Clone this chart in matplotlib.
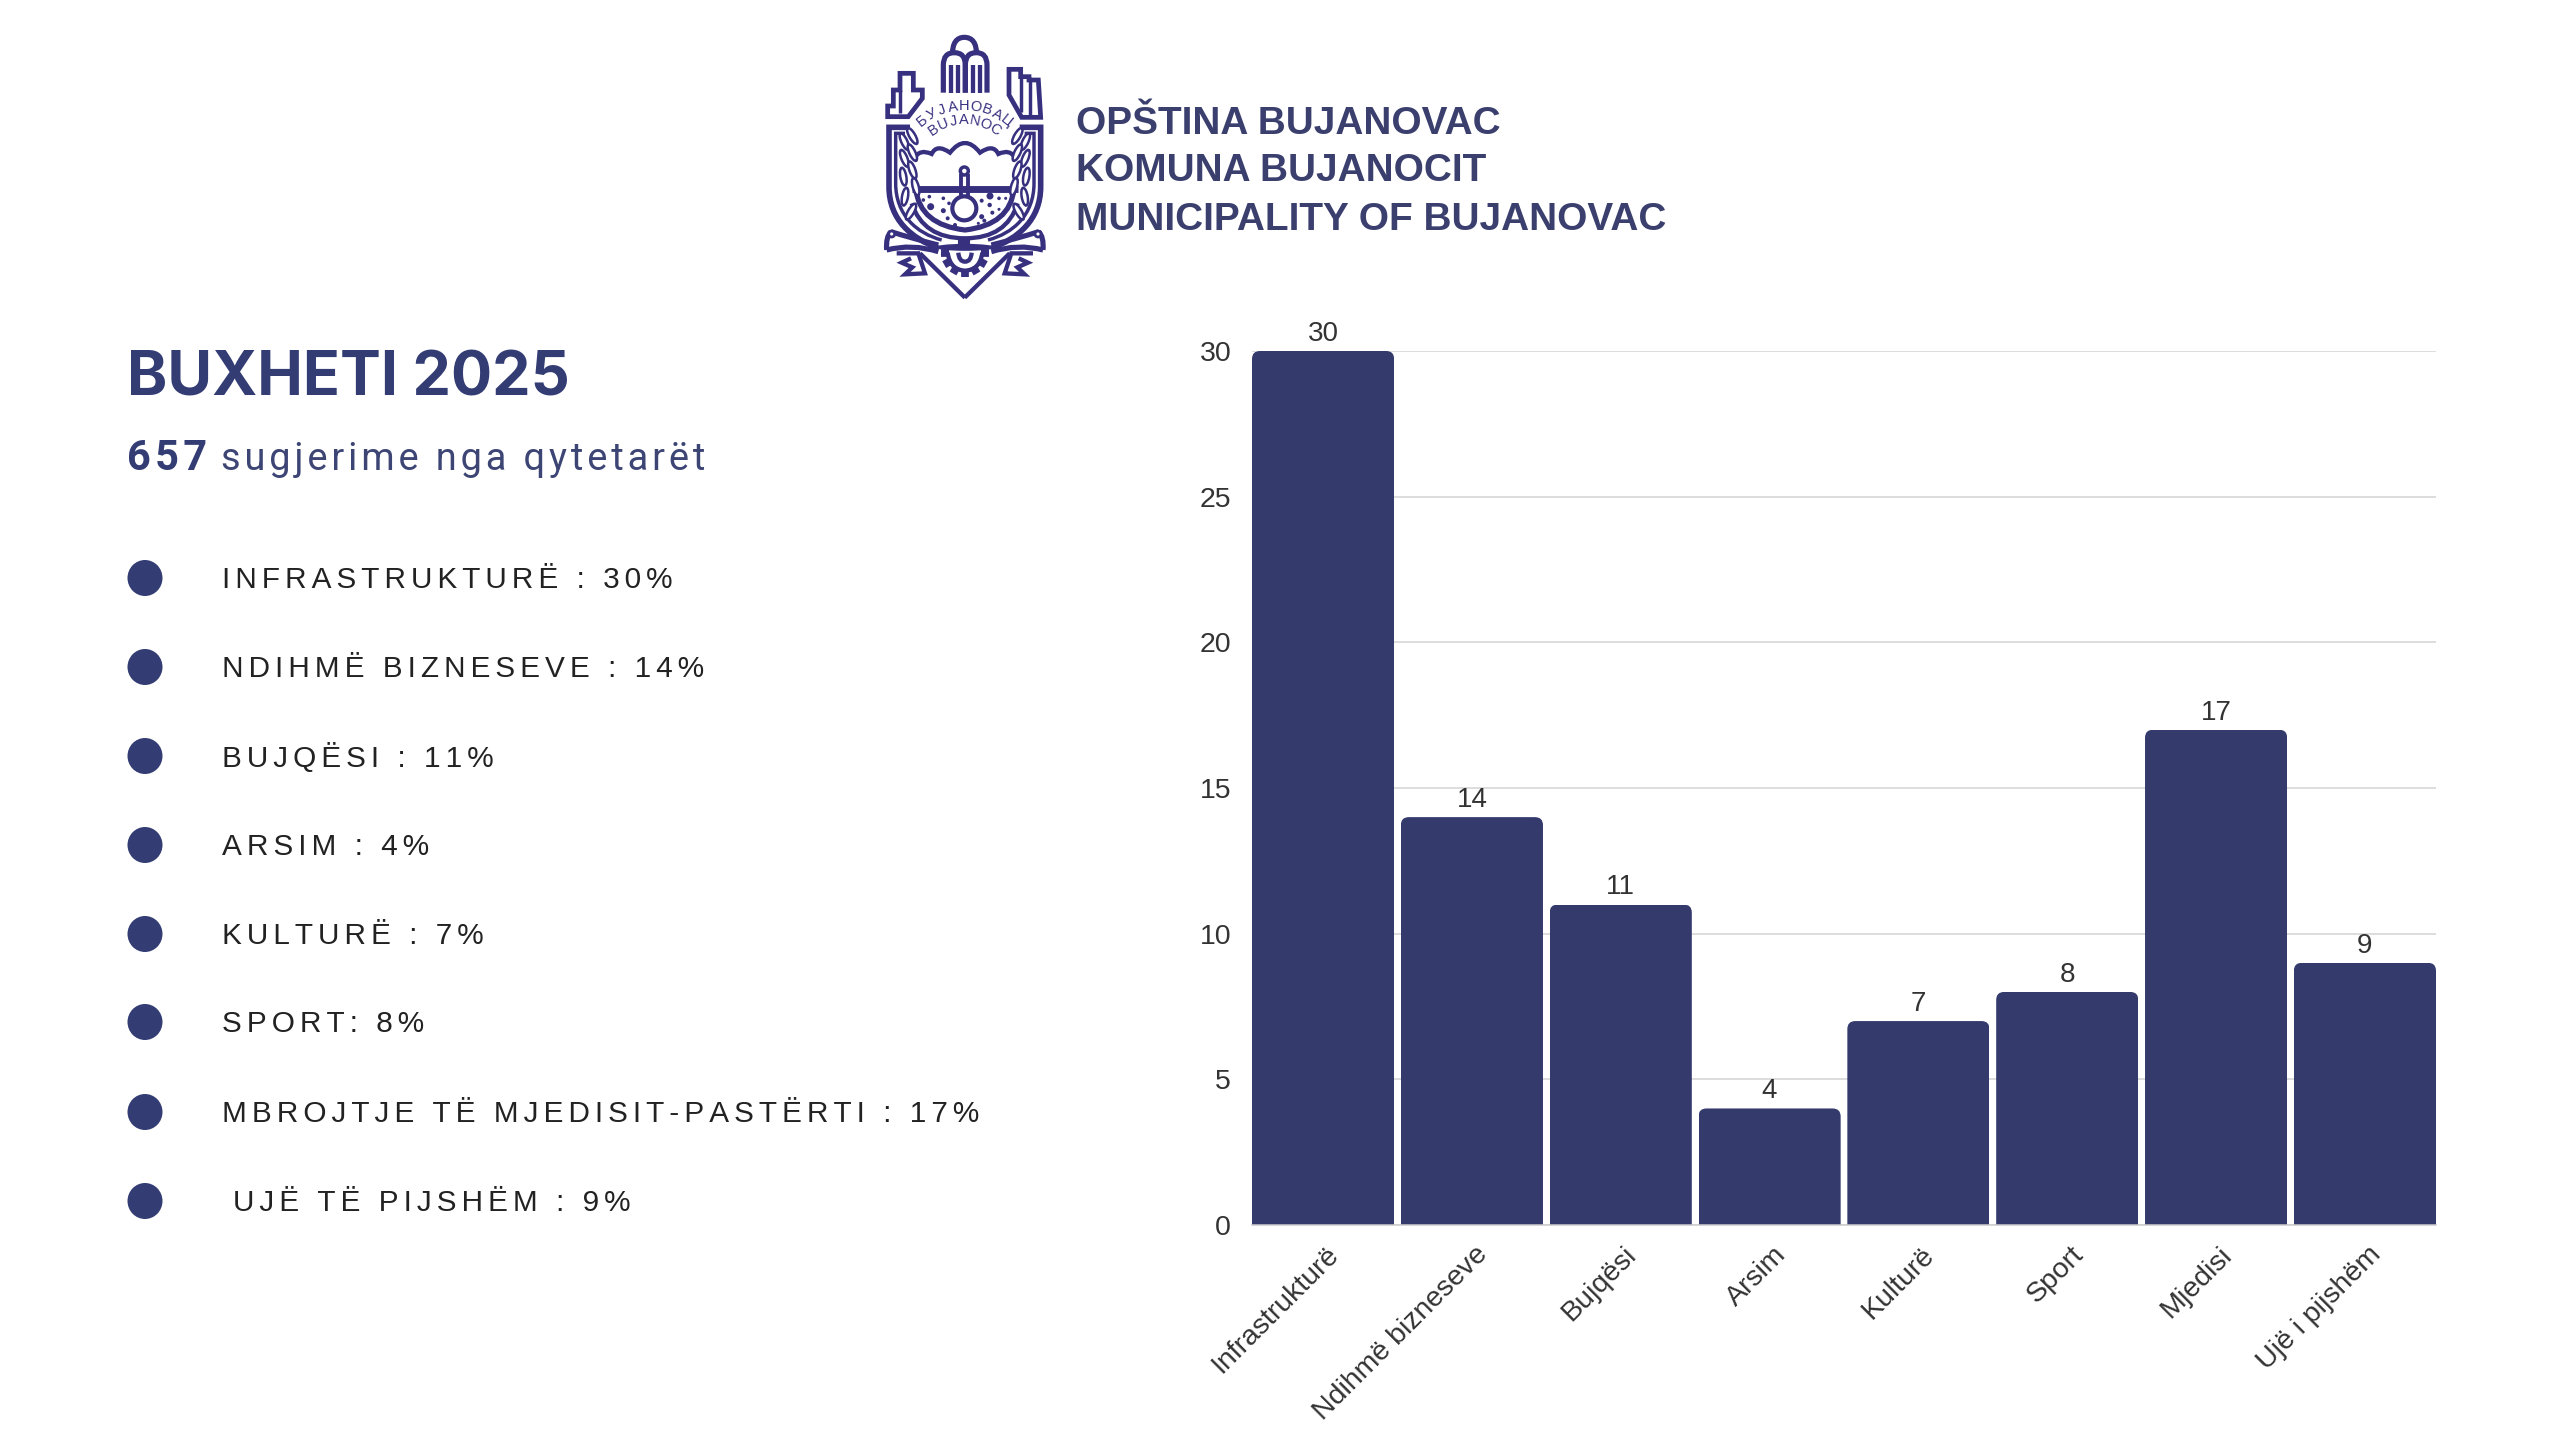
import numpy as np
import matplotlib
matplotlib.use("Agg")
import matplotlib.pyplot as plt
from matplotlib.path import Path
from matplotlib.patches import PathPatch, Ellipse, Circle, FancyBboxPatch, Polygon
from matplotlib.transforms import ScaledTranslation

# DATA
categories = ["Infrastrukturë", "Ndihmë bizneseve", "Bujqësi", "Arsim",
              "Kulturë", "Sport", "Mjedisi", "Ujë i pijshëm"]
values = [30, 14, 11, 4, 7, 8, 17, 9]
y_ticks = [0, 5, 10, 15, 20, 25, 30]
legend_labels = ["INFRASTRUKTURË : 30%", "NDIHMË BIZNESEVE : 14%", "BUJQËSI : 11%",
                 "ARSIM : 4%", "KULTURË : 7%", "SPORT: 8%",
                 "MBROJTJE TË MJEDISIT-PASTËRTI : 17%", "UJË TË PIJSHËM : 9%"]
legend_y = [578, 667, 756, 845, 934, 1022, 1112, 1201]
header_lines = ["OPŠTINA BUJANOVAC", "KOMUNA BUJANOCIT", "MUNICIPALITY OF BUJANOVAC"]
header_y = [124, 171, 220]

NAVY = "#343b6c"
BLUE = "#333d74"
INK = "#37307f"
SANS = ["Liberation Sans", "DejaVu Sans"]
HAIR = "\u200a"
LW = 0.62  # logo stroke scale

fig = plt.figure(figsize=(25.6, 14.4), dpi=100, facecolor="white")

# page layer in pixel coordinates
bg = fig.add_axes([0, 0, 1, 1])
bg.set_xlim(0, 2560)
bg.set_ylim(1440, 0)
bg.axis("off")


def spaced(s, n=1):
    return (HAIR * n).join(s)


# HEADER
for line, y in zip(header_lines, header_y):
    bg.text(1076, y, line, family=SANS, weight="bold", fontsize=27.9, color="#3a3f6e",
            va="center", ha="left")

# LEFT COLUMN
bg.text(127, 379, "BUXHETI 2025", family=["Inter"] + SANS, weight="bold", fontsize=44,
        color=BLUE, va="center", ha="left")
bg.text(127, 459, spaced("657"), family=["Roboto"] + SANS, weight="bold", fontsize=30,
        color=BLUE, va="center", ha="left")
bg.text(221, 459, spaced("sugjerime nga qytetarët"), family=["Roboto"] + SANS, fontsize=27.4,
        color="#3d4575", va="center", ha="left")

for i, (label, y) in enumerate(zip(legend_labels, legend_y)):
    bg.add_patch(Ellipse((145, y), 35, 36, color=BLUE, lw=0))
    x = 233 if i == len(legend_labels) - 1 else 222
    bg.text(x, y + 2, spaced(label, 2), family=SANS, fontsize=21.4, color="#222222",
            va="center", ha="left")


# LOGO: drawn on the page layer, coordinates are 3x pixels from (875, 30)
def P(u, v):
    return 875 + u / 3, 30 + v / 3


def mir(u):
    return 539 - u


def stroke(pts, lw=5, closed=False, fc="none"):
    bg.add_patch(Polygon([P(*p) for p in pts], closed=closed, fill=fc != "none", fc=fc,
                         ec=INK, lw=lw * LW, joinstyle="miter"))


def curve(verts, codes, lw=4.5, fc="none"):
    bg.add_patch(PathPatch(Path([P(*p) for p in verts], codes), fc=fc, ec=INK, lw=lw * LW))


M, L, C3, C4 = Path.MOVETO, Path.LINETO, Path.CURVE3, Path.CURVE4

# arch and towers
curve([(232, 75), (232, 22), (268, 22), (305, 22), (305, 75)], [M, C3, C3, C3, C3], lw=6)
for a, b in [(205, 271), (271, 336)]:
    mid = (a + b) / 2
    curve([(a, 188), (a, 105), (a, 68), (mid, 68), (b, 68), (b, 105), (b, 188)],
          [M, L, C3, C3, C3, C3, L], lw=6)
    for du in (-11, 11):
        curve([(mid + du, 188), (mid + du, 105)], [M, L], lw=5)

# buildings
stroke([(38, 260), (38, 228), (55, 228), (55, 180), (75, 180), (75, 130), (115, 130),
        (115, 180), (142, 180), (142, 205), (100, 260)], lw=5.5, closed=True)
stroke([(75, 180), (75, 250)], lw=4)
stroke([(402, 118), (437, 118), (437, 140), (462, 140), (462, 150), (490, 150),
        (497, 262), (440, 262), (402, 195)], lw=5.5, closed=True)
stroke([(437, 140), (437, 245)], lw=4)
stroke([(465, 150), (465, 258)], lw=4)

# shield, double outline
for sign in (0, 1):
    f = (lambda u: u) if sign == 0 else mir
    curve([(f(105), 292), (f(42), 292), (f(42), 470), (f(42), 570), (f(110), 625), (f(190), 655)],
          [M, L, L, C4, C4, C4], lw=6.5)
    curve([(f(90), 310), (f(62), 310), (f(62), 460), (f(62), 555), (f(125), 610), (f(200), 630)],
          [M, L, L, C4, C4, C4], lw=4)
    # lower point of the shield
    curve([(f(135), 670), (f(270), 803)], [M, L], lw=5)

# cloud
curve([(118, 385), (135, 355), (170, 372), (185, 340), (225, 368), (270, 310),
       (315, 368), (355, 340), (370, 372), (405, 355), (421, 385)],
      [M, C3, C3, C3, C3, C3, C3, C3, C3, C3, C3], lw=5)

# water line, bowl, flask
stroke([(110, 477), (428, 477)], lw=8)
curve([(122, 477), (135, 585), (270, 600), (405, 585), (417, 477)], [M, C3, C3, C3, C3], lw=6)
curve([(110, 520), (145, 625), (270, 625), (395, 625), (428, 520)], [M, C3, C3, C3, C3], lw=5)
bg.add_patch(Circle(P(268, 535), 12, fc="white", ec=INK, lw=3, zorder=3))
bg.add_patch(Circle(P(268, 423), 4, fc="white", ec=INK, lw=2.5, zorder=3))
for u in (257, 279):
    curve([(u, 432), (u, 502)], [M, L], lw=4.5)
curve([(234, 540), (268, 552), (302, 540)], [M, C3, C3], lw=4)
curve([(268, 625), (268, 655)], [M, L], lw=14)
for u, v, r in [(145, 510, 1.8), (163, 500, 1.8), (167, 530, 3.5), (205, 505, 1.8), (222, 520, 1.8),
                (205, 542, 2.5), (218, 565, 2), (240, 585, 2), (320, 512, 2), (345, 498, 3.5),
                (372, 505, 1.8), (392, 505, 1.5), (344, 525, 2.2), (372, 538, 1.5), (352, 548, 2),
                (320, 560, 2.5), (328, 572, 2), (310, 580, 1.5), (160, 560, 1.2)]:
    bg.add_patch(Circle(P(u, v), r, fc=INK, ec="none"))

# laurels
leaves = [(88, 335, 65), (112, 318, 60), (88, 385, 68), (112, 368, 65), (85, 440, 80),
          (112, 420, 70), (90, 500, 100), (122, 470, 75), (108, 545, 120)]
for u, v, ang in leaves:
    for x_leaf, a in ((u, ang), (mir(u), 180 - ang)):
        bg.add_patch(Ellipse(P(x_leaf, v), 18, 6, angle=a, fc="white", ec=INK, lw=1.8, zorder=3))

# ribbon and tails
for f in ((lambda u: u), mir):
    curve([(f(190), 645), (f(110), 625), (f(48), 605)], [M, C3, C3], lw=6)
    curve([(f(48), 605), (f(32), 620), (f(35), 660)], [M, C3, C3], lw=6)
    curve([(f(35), 660), (f(110), 640), (f(190), 665)], [M, C3, C3], lw=6)
    bg.add_patch(Circle(P(f(50), 612), 3, fc="white", ec=INK, lw=2))
    stroke([(f(65), 670), (f(130), 670), (f(150), 730), (f(90), 733), (f(112), 712),
            (f(80), 698), (f(108), 685)], lw=5)
bg.add_patch(Ellipse(P(270, 652), 60, 7, fc=INK, ec="none", zorder=4))

# gear
for deg in range(0, 181, 30):
    t = np.deg2rad(deg)
    c, s = np.cos(t), np.sin(t)
    curve([(270 + 48 * c, 668 + 48 * s), (270 + 72 * c, 668 + 72 * s)], [M, L], lw=9)
curve([(218, 668), (225, 720), (270, 722), (315, 720), (322, 668)], [M, C3, C3, C3, C3], lw=5)
curve([(250, 668), (252, 695), (270, 695), (288, 695), (290, 668)], [M, C3, C3, C3, C3], lw=5)


def arc_text(txt, r, half_deg, size):
    angs = np.linspace(-half_deg, half_deg, len(txt))
    for ch, a in zip(txt, angs):
        t = np.deg2rad(a)
        bg.text(*P(268 + r * np.sin(t), 436 - r * np.cos(t)), ch, family=SANS, fontsize=size,
                color=INK, rotation=-a, ha="center", va="center", rotation_mode="anchor")


arc_text("БУЈАНОВАЦ", 207, 38, 10.5)
arc_text("BUJANOC", 165, 34, 10.5)

# CHART
ax = fig.add_axes([1252 / 2560, (1440 - 1225) / 1440, (2436 - 1252) / 2560, 874 / 1440])
ax.patch.set_alpha(0)
x = np.arange(len(values))
width = 0.955
ax.set_xlim(-width / 2, len(values) - 1 + width / 2)
ax.set_ylim(0, 30)
ax.set_axisbelow(True)
ax.grid(axis="y", color="#d3d3d3", linewidth=1.1)
ax.grid(axis="x", visible=False)

bars = ax.bar(x, values, width=width, color=NAVY, linewidth=0)
# round off the top corners
rx = 8 / 148.8
ry = 8 / (874 / 30)
for b in bars:
    clip = FancyBboxPatch((b.get_x(), -2), b.get_width(), b.get_height() + 2,
                          boxstyle=f"round,pad=0,rounding_size={rx}",
                          mutation_aspect=ry / rx, transform=ax.transData)
    b.set_clip_path(clip)

ax.bar_label(bars, padding=3, fontsize=20, color="#333333", family=SANS)

for side in ("top", "right", "left"):
    ax.spines[side].set_visible(False)
ax.spines["bottom"].set_color("#cccccc")
ax.spines["bottom"].set_linewidth(1.1)

ax.set_yticks(y_ticks)
ax.set_xticks(x)
ax.set_xticklabels(categories, rotation=45, ha="right", va="top", rotation_mode="anchor")
ax.tick_params(axis="both", length=0, labelsize=20.5, labelcolor="#333333")
ax.tick_params(axis="y", pad=15)
ax.tick_params(axis="x", pad=12)
for lab in ax.get_xticklabels():
    lab.set_transform(lab.get_transform() + ScaledTranslation(3 / 100, 0, fig.dpi_scale_trans))
for lab in ax.get_xticklabels() + ax.get_yticklabels():
    lab.set_family(SANS)

fig.savefig("out.png", dpi=100)
